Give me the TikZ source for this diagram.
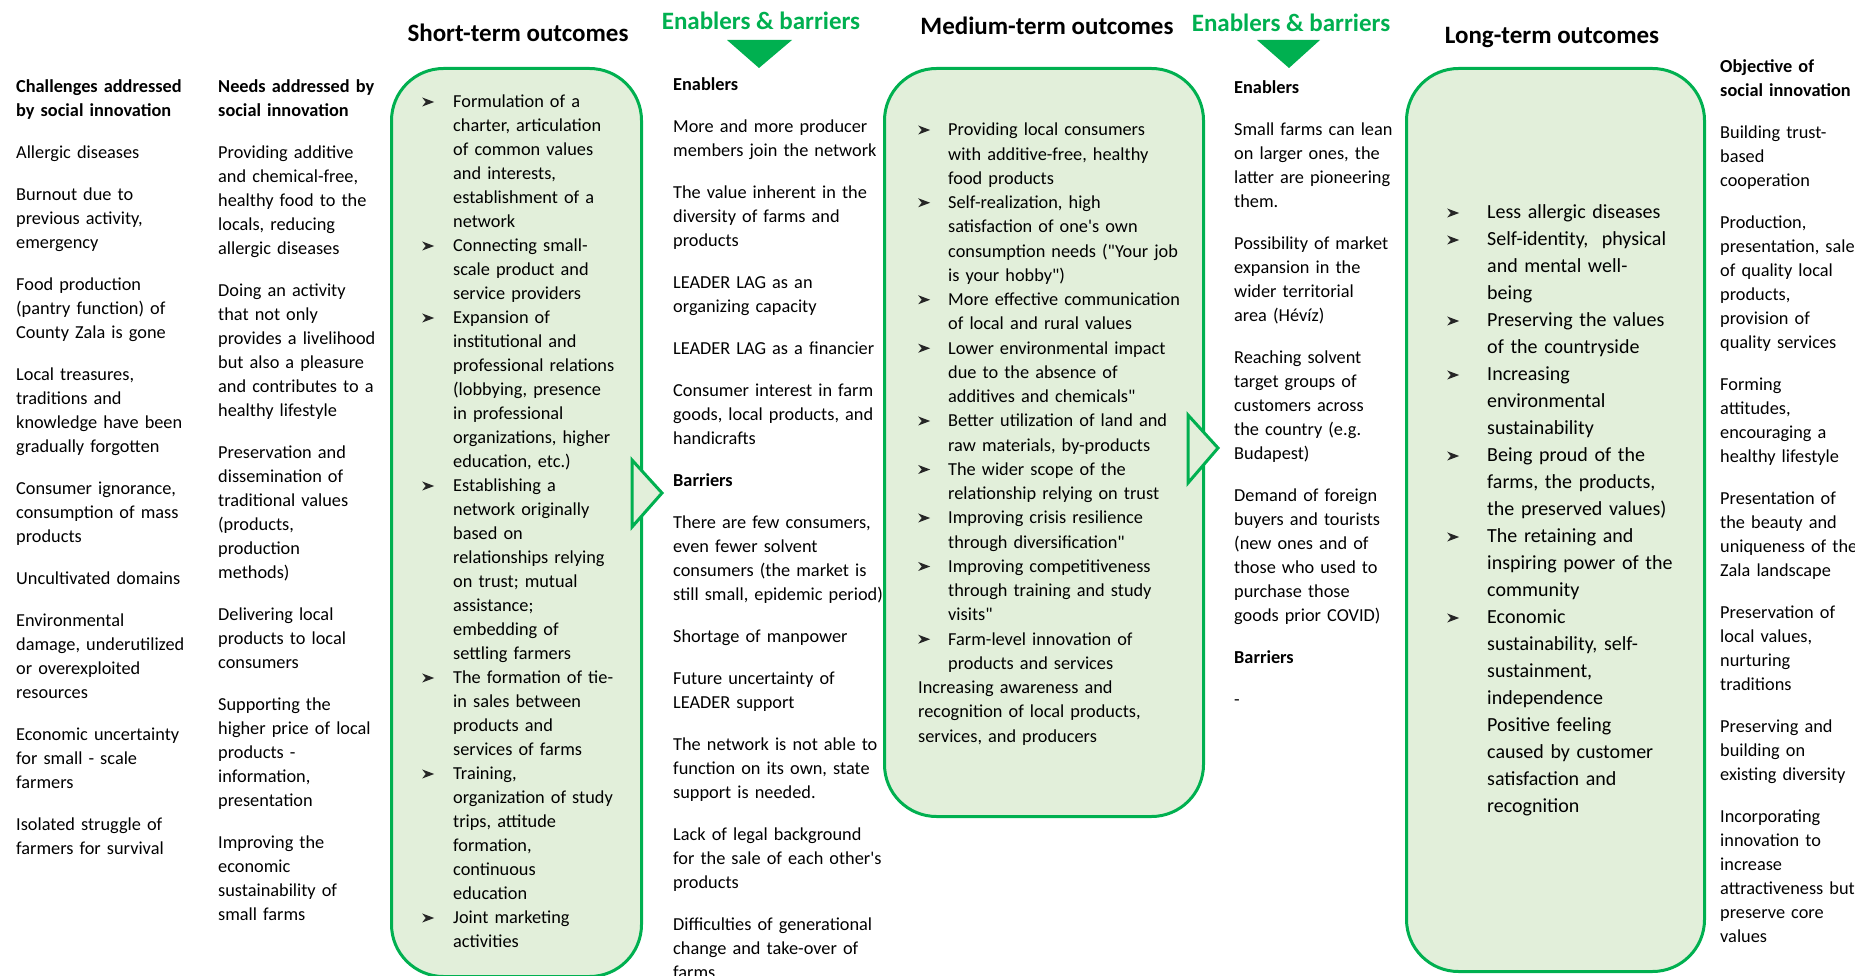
\documentclass[tikz,border=0pt]{standalone}
\usepackage{fontspec}
\setmainfont{Carlito}[Ligatures=TeXOff]
\definecolor{boxgreen}{HTML}{00B050}
\definecolor{boxfill}{HTML}{E2EFDA}
\newlength\bulind
\newcommand\bulsym{\tikz[baseline=0pt,x=1pt,y=1pt]\fill[black!85] (0,1.5) -- (12,6) -- (0,10.5) -- (3.5,6) -- cycle;}
\newcommand\bul{\hangindent=\bulind\hangafter=1\makebox[\bulind][l]{\bulsym}}
\newcommand\nl{\newline}
\tikzset{
  outbox/.style={draw=boxgreen, line width=3pt, fill=boxfill, rounded corners=52pt,
    anchor=north west, inner sep=0pt},
  notch/.style={draw=boxgreen, line width=3pt, fill=boxfill, line join=miter},
  headtxt/.style={anchor=base, inner sep=0pt, font=\fontsize{25}{30}\selectfont\bfseries},
  coltxt/.style={anchor=base west, inner sep=0pt, align=left, text width=#1,
    font=\fontsize{18.3}{24}\selectfont},
  coltxt/.default=240pt
}
\begin{document}
\begin{tikzpicture}[x=1pt,y=-1pt]
\useasboundingbox (0,0) rectangle (1855,976);

% outcome boxes
\node[outbox, minimum width=250pt, minimum height=908pt] (shortbox) at (390,67) {};
\node[outbox, minimum width=319pt, minimum height=748pt] (medbox) at (883,67) {};
\node[outbox, minimum width=298pt, minimum height=903pt] (longbox) at (1405,67) {};

% arrows out of the boxes
\draw[notch] (632,460) -- (662,493) -- (632,527) -- cycle;
\draw[notch] (1188,415) -- (1218,448) -- (1188,483) -- cycle;
\fill[boxgreen] (727,40) -- (792,40) -- (759,68) -- cycle;
\fill[boxgreen] (1257,40) -- (1320,40) -- (1289,68) -- cycle;

% headings
\node[headtxt] (shorthd) at (518,42) {Short-term outcomes};
\node[headtxt, text=boxgreen] (enabhd1) at (761,30) {Enablers \& barriers};
\node[headtxt] (medhd) at (1047,35) {Medium-term outcomes};
\node[headtxt, text=boxgreen] (enabhd2) at (1291,32) {Enablers \& barriers};
\node[headtxt] (longhd) at (1552,44) {Long-term outcomes};

% columns
\node[coltxt] (chall) at (16,93) {\textbf{Challenges addressed}\\ \textbf{by social innovation}\\[18pt]
Allergic diseases\\[18pt]
Burnout due to\\ previous activity,\\ emergency\\[18pt]
Food production\\ (pantry function) of\\ County Zala is gone\\[18pt]
Local treasures,\\ traditions and\\ knowledge have been\\ gradually forgotten\\[18pt]
Consumer ignorance,\\ consumption of mass\\ products\\[18pt]
Uncultivated domains\\[18pt]
Environmental\\ damage, underutilized\\ or overexploited\\ resources\\[18pt]
Economic uncertainty\\ for small - scale\\ farmers\\[18pt]
Isolated struggle of\\ farmers for survival};

\node[coltxt] (needs) at (218,93) {\textbf{Needs addressed by}\\ \textbf{social innovation}\\[18pt]
Providing additive\\ and chemical-free,\\ healthy food to the\\ locals, reducing\\ allergic diseases\\[18pt]
Doing an activity\\ that not only\\ provides a livelihood\\ but also a pleasure\\ and contributes to a\\ healthy lifestyle\\[18pt]
Preservation and\\ dissemination of\\ traditional values\\ (products,\\ production\\ methods)\\[18pt]
Delivering local\\ products to local\\ consumers\\[18pt]
Supporting the\\ higher price of local\\ products -\\ information,\\ presentation\\[18pt]
Improving the\\ economic\\ sustainability of\\ small farms};

\node[coltxt=210pt] (shorttxt) at (422,108) {\setlength\bulind{31pt}%
\bul Formulation of a\nl charter, articulation\nl of common values\nl and interests,\nl establishment of a\nl network\par
\bul Connecting small-\nl scale product and\nl service providers\par
\bul Expansion of\nl institutional and\nl professional relations\nl (lobbying, presence\nl in professional\nl organizations, higher\nl education, etc.)\par
\bul Establishing a\nl network originally\nl based on\nl relationships relying\nl on trust; mutual\nl assistance;\nl embedding of\nl settling farmers\par
\bul The formation of tie-\nl in sales between\nl products and\nl services of farms\par
\bul Training,\nl organization of study\nl trips, attitude\nl formation,\nl continuous\nl education\par
\bul Joint marketing\nl activities\par};

\node[coltxt] (enab1) at (673,91) {\textbf{Enablers}\\[18pt]
More and more producer\\ members join the network\\[18pt]
The value inherent in the\\ diversity of farms and\\ products\\[18pt]
LEADER LAG as an\\ organizing capacity\\[18pt]
LEADER LAG as a financier\\[18pt]
Consumer interest in farm\\ goods, local products, and\\ handicrafts\\[18pt]
\textbf{Barriers}\\[18pt]
There are few consumers,\\ even fewer solvent\\ consumers (the market is\\ still small, epidemic period)\\[18pt]
Shortage of manpower\\[18pt]
Future uncertainty of\\ LEADER support\\[18pt]
The network is not able to\\ function on its own, state\\ support is needed.\\[18pt]
Lack of legal background\\ for the sale of each other's\\ products\\[18pt]
Difficulties of generational\\ change and take-over of\\ farms};

\node[coltxt=270pt, font=\fontsize{18.3}{24.25}\selectfont] (medtxt) at (918,136) {\setlength\bulind{30pt}%
\bul Providing local consumers\nl with additive-free, healthy\nl food products\par
\bul Self-realization, high\nl satisfaction of one's own\nl consumption needs ("Your job\nl is your hobby")\par
\bul More effective communication\nl of local and rural values\par
\bul Lower environmental impact\nl due to the absence of\nl additives and chemicals"\par
\bul Better utilization of land and\nl raw materials, by-products\par
\bul The wider scope of the\nl relationship relying on trust\par
\bul Improving crisis resilience\nl through diversification"\par
\bul Improving competitiveness\nl through training and study\nl visits"\par
\bul Farm-level innovation of\nl products and services\par
Increasing awareness and\\ recognition of local products,\\ services, and producers};

\node[coltxt] (enab2) at (1234,94) {\textbf{Enablers}\\[18pt]
Small farms can lean\\ on larger ones, the\\ latter are pioneering\\ them.\\[18pt]
Possibility of market\\ expansion in the\\ wider territorial\\ area (Hévíz)\\[18pt]
Reaching solvent\\ target groups of\\ customers across\\ the country (e.g.\\ Budapest)\\[18pt]
Demand of foreign\\ buyers and tourists\\ (new ones and of\\ those who used to\\ purchase those\\ goods prior COVID)\\[18pt]
\textbf{Barriers}\\[18pt]
-};

\node[coltxt=240pt, font=\fontsize{20}{27}\selectfont] (longtxt) at (1447,219) {\setlength\bulind{40pt}%
\bul Less allergic diseases\par
\bul Self-identity,\ \ physical\nl and mental well-\nl being\par
\bul Preserving the values\nl of the countryside\par
\bul Increasing\nl environmental\nl sustainability\par
\bul Being proud of the\nl farms, the products,\nl the preserved values)\par
\bul The retaining and\nl inspiring power of the\nl community\par
\bul Economic\nl sustainability, self-\nl sustainment,\nl independence\par
\hangindent=\bulind\hangafter=0 Positive feeling\nl caused by customer\nl satisfaction and\nl recognition\par};

\node[coltxt] (objct) at (1720,73) {\textbf{Objective of}\\ \textbf{social innovation}\\[18pt]
Building trust-\\ based\\ cooperation\\[18pt]
Production,\\ presentation, sale\\ of quality local\\ products,\\ provision of\\ quality services\\[18pt]
Forming\\ attitudes,\\ encouraging a\\ healthy lifestyle\\[18pt]
Presentation of\\ the beauty and\\ uniqueness of the\\ Zala landscape\\[18pt]
Preservation of\\ local values,\\ nurturing\\ traditions\\[18pt]
Preserving and\\ building on\\ existing diversity\\[18pt]
Incorporating\\ innovation to\\ increase\\ attractiveness but\\ preserve core\\ values};
\end{tikzpicture}
\end{document}
